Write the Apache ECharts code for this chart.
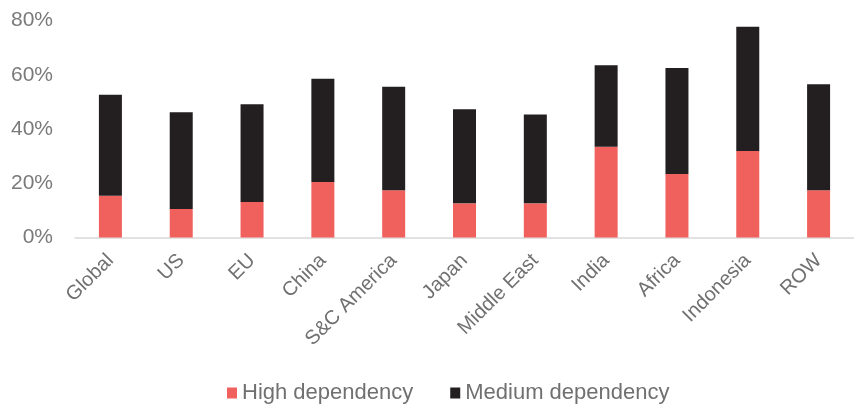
<!DOCTYPE html>
<html>
<head>
<meta charset="utf-8">
<script src="https://cdn.jsdelivr.net/npm/echarts@6/dist/echarts.min.js"></script>
<style>
html, body { margin: 0; padding: 0; background: #fff; }
#chart { width: 854px; height: 415px; }
</style>
</head>
<body>
<div id="chart"></div>
<script>
const regions = ['Global', 'US', 'EU', 'China', 'S&C America', 'Japan', 'Middle East', 'India', 'Africa', 'Indonesia', 'ROW']
// high dependency share, %
const highDep = [15.4, 10.5, 13.1, 20.5, 17.4, 12.6, 12.6, 33.5, 23.4, 31.9, 17.4]
// medium dependency share, %, stacked on top
const mediumDep = [37.2, 35.7, 36.0, 38.0, 38.2, 34.7, 32.7, 30.0, 39.1, 45.8, 39.1]
const yTicks = [0, 20, 40, 60, 80]

const font = "'Liberation Sans', Arial, sans-serif"
const myChart = echarts.init(document.getElementById('chart'))
myChart.setOption({
  animation: false,
  textStyle: { fontFamily: font },
  legend: {
    bottom: 6,
    left: 222,
    itemWidth: 10,
    itemHeight: 11,
    itemGap: 37,
    icon: 'rect',
    textStyle: { color: '#707070', fontSize: 22, fontFamily: font },
    data: ['High dependency', 'Medium dependency']
  },
  grid: {
    left: 75,
    top: 20.5,
    width: 787,
    bottom: 177.5
  },
  xAxis: {
    type: 'category',
    data: regions,
    axisLine: { lineStyle: { color: '#d9d9d9', width: 1.5 } },
    axisTick: { show: false },
    axisLabel: {
      rotate: 45,
      interval: 0,
      margin: 20,
      color: '#707070',
      fontSize: 20,
      fontFamily: font
    }
  },
  yAxis: {
    type: 'value',
    min: yTicks[0],
    max: yTicks[yTicks.length - 1],
    interval: 20,
    splitLine: { show: false },
    axisLine: { show: false },
    axisTick: { show: false },
    axisLabel: {
      margin: 22,
      color: '#7a7a7a',
      fontSize: 21,
      fontFamily: font,
      formatter: v => v + '%'
    }
  },
  series: [
    {
      name: 'High dependency',
      type: 'bar',
      stack: 'dep',
      barWidth: 23,
      itemStyle: { color: '#f0605d' },
      data: highDep
    },
    {
      name: 'Medium dependency',
      type: 'bar',
      stack: 'dep',
      barWidth: 23,
      itemStyle: { color: '#231f20' },
      data: mediumDep
    }
  ]
})
</script>
</body>
</html>
